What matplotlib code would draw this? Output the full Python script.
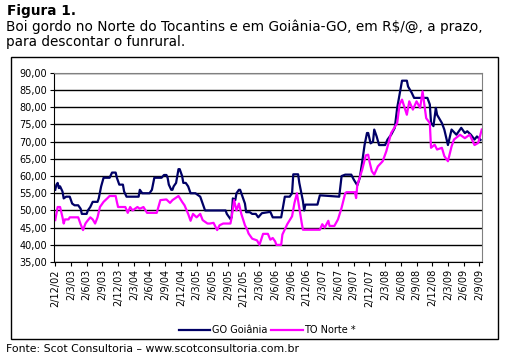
import matplotlib.pyplot as plt
from matplotlib.patches import Rectangle

# semanas desde 2/12/02 e preços em R$/@
go_semana = [0, 1, 2, 3, 4, 6, 7, 9, 12, 14, 16, 19, 21, 22, 26, 27, 29, 31, 35, 36, 38, 40, 45, 47, 50,
             51, 53, 56, 57, 59, 69, 70, 72, 78, 80, 82, 88, 90, 92, 93, 94, 96, 97, 98, 100, 102, 103,
             105, 106, 108, 110, 112, 116, 120, 124, 141, 142, 145, 146, 147, 149, 150, 152, 153, 154,
             157, 158, 161, 163, 166, 168, 171, 178, 180, 187, 188, 190, 194, 196, 197, 201, 202, 205,
             206, 207, 217, 219, 235, 237, 240, 245, 247, 250, 252, 254, 256, 258, 259, 261, 263, 264,
             266, 268, 273, 275, 278, 281, 283, 286, 287, 291, 292, 295, 297, 308, 310, 311, 313, 315,
             316, 320, 322, 325, 328, 332, 336, 339, 341, 344, 347, 349, 352]
go_goiania = [56, 57.5, 58, 56.5, 57, 55.5, 53.5, 54, 54, 52, 51.5, 51.5, 50.5, 49, 49, 50, 51, 52.5, 52.5,
              53.5, 57, 59.5, 59.5, 61, 61, 59.5, 57.5, 57.5, 55.5, 54, 54, 56, 55, 55, 56, 59.5, 59.5,
              60.3, 60.3, 59.5, 57.5, 56, 56, 57, 58, 62, 62, 60, 58, 58, 57, 55, 55, 54, 50, 50, 49,
              47.5, 48, 53.5, 53, 55, 56, 56, 55, 52, 49.5, 49.5, 49, 49, 48, 49.2, 49.6, 48, 48, 50,
              54, 54, 55, 60.5, 60.5, 58, 52.7, 50, 51.7, 51.7, 54.4, 54, 60, 60.4, 60.4, 59, 57.3,
              59.4, 64, 69, 72.5, 72.5, 69.5, 70, 73.5, 71.5, 69, 69, 70.6, 72, 74, 79.8, 85.6, 87.7,
              87.7, 86, 84.2, 82.7, 82.7, 80.8, 75.5, 74.5, 79.8, 77.8, 75.4, 73.5, 69, 73.5, 72, 74,
              72.5, 73, 72, 70.6, 71.5, 70.5]

to_semana = [0, 2, 4, 6, 7, 8, 11, 12, 19, 21, 23, 25, 26, 29, 31, 33, 35, 37, 40, 43, 45, 50, 51, 52,
             58, 60, 62, 64, 68, 70, 73, 76, 84, 87, 92, 95, 97, 102, 105, 107, 110, 112, 114, 117, 120,
             122, 126, 128, 131, 134, 136, 139, 145, 146, 148, 150, 152, 154, 157, 159, 160, 163, 167,
             169, 172, 176, 178, 180, 182, 183, 187, 188, 192, 196, 198, 200, 202, 204, 205, 219, 221,
             223, 226, 227, 231, 234, 237, 240, 241, 248, 249, 250, 254, 257, 259, 260, 262, 264, 267,
             271, 274, 278, 283, 285, 287, 291, 293, 296, 299, 302, 304, 307, 310, 311, 314, 316, 320,
             322, 325, 328, 330, 335, 339, 343, 347, 350, 353]
to_norte = [47.2, 51, 51, 48, 46.2, 47.4, 47.4, 48, 48, 46, 44.3, 46.2, 46.7, 48, 47.4, 46.2, 48, 51,
            52.5, 53.5, 54.2, 54.2, 52.5, 51, 51, 49.3, 51, 50, 51, 50.5, 51, 49.3, 49.3, 53, 53.2,
            52.2, 53, 54.2, 52.5, 51.5, 49, 47, 49, 48, 49, 47.2, 46.2, 46.2, 46.4, 44.3, 45.7, 46.2,
            46.2, 48, 53, 50, 52, 49, 45.7, 44.3, 43.3, 41.8, 41.3, 40, 43.2, 43.2, 41.5, 42, 41, 40,
            40, 43, 46, 48.3, 52.2, 55, 50.7, 46.3, 44.4, 44.4, 46, 45, 47, 45.5, 45.5, 47.4, 50.8, 55,
            55.3, 55.3, 53.6, 57.4, 61.8, 66, 66.2, 64.3, 61.4, 60.4, 62.8, 64.3, 67.2, 72.5, 75.4,
            80.8, 82.2, 77.8, 81.7, 79.3, 81.7, 79.8, 84.6, 76.8, 75.4, 68.2, 69.1, 67.7, 68.2, 65.8,
            64.3, 68.6, 70.6, 72, 71, 72, 69, 69.6, 73.5]

rotulos_x = ['2/12/02', '2/3/03', '2/6/03', '2/9/03', '2/12/03', '2/3/04', '2/6/04', '2/9/04',
             '2/12/04', '2/3/05', '2/6/05', '2/9/05', '2/12/05', '2/3/06', '2/6/06', '2/9/06',
             '2/12/06', '2/3/07', '2/6/07', '2/9/07', '2/12/07', '2/3/08', '2/6/08', '2/9/08',
             '2/12/08', '2/3/09', '2/6/09', '2/9/09']

fig = plt.figure(figsize=(5.05, 3.62), dpi=100)
ax = fig.add_axes([0.107, 0.276, 0.847, 0.523])

ax.plot(go_semana, go_goiania, color='#000066', lw=1.6, label='GO Goiânia')
ax.plot(to_semana, to_norte, color='#ff00ff', lw=1.6, label='TO Norte *')

ax.set_ylim(35, 90)
ax.set_xlim(-1, 353)
ax.set_yticks(range(35, 91, 5))
ax.set_yticklabels(['%d,00' % v for v in range(35, 91, 5)], fontsize=7)
ax.set_xticks([13 * i for i in range(len(rotulos_x))])
ax.set_xticklabels(rotulos_x, rotation=90, fontsize=7)
ax.tick_params(length=3, width=0.8, pad=2)
ax.yaxis.grid(True, color='black', lw=1)
ax.set_axisbelow(True)
for s in ['top', 'right']:
    ax.spines[s].set_color('gray')
for s in ['left', 'bottom']:
    ax.spines[s].set_color('black')

leg = fig.legend(loc='center', bbox_to_anchor=(0.53, 0.088), ncol=2, frameon=False,
                 fontsize=7, handlelength=3.2, handletextpad=0.2, columnspacing=0.4)

fig.patches.append(Rectangle((0.022, 0.064), 0.964, 0.779, transform=fig.transFigure,
                             fill=False, ec='black', lw=1))

fig.text(0.014, 0.99, 'Figura 1.', fontsize=9.8, fontweight='bold', va='top')
fig.text(0.012, 0.945, 'Boi gordo no Norte do Tocantins e em Goiânia-GO, em R$/@, a prazo,\n'
         'para descontar o funrural.', fontsize=9.8, va='top', linespacing=1.05)
fig.text(0.012, 0.035, 'Fonte: Scot Consultoria – www.scotconsultoria.com.br', fontsize=7.8, va='center')

plt.savefig('out.png', dpi=100)
